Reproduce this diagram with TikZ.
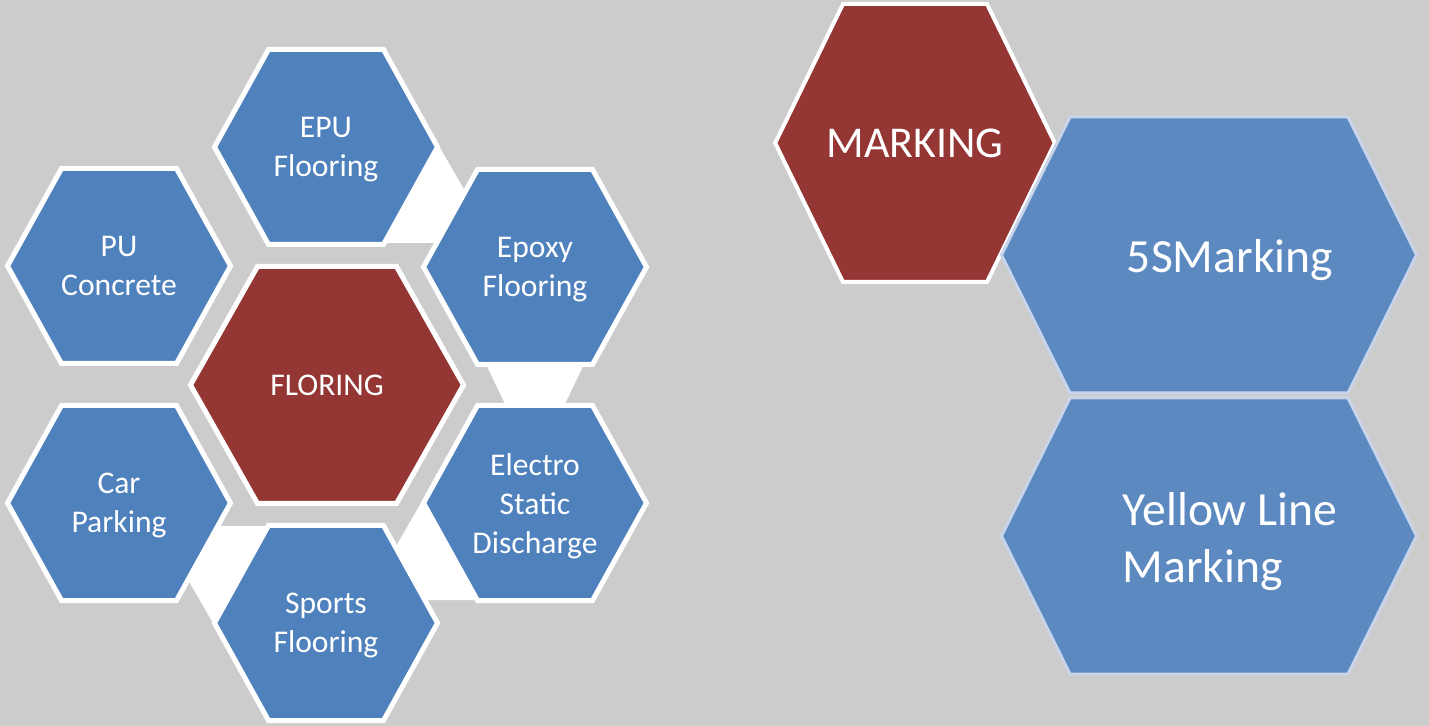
\documentclass[tikz,border=0pt]{standalone}
\usepackage{fontspec}
\setmainfont{Carlito}
\usetikzlibrary{calc}
\usetikzlibrary{backgrounds}

\definecolor{paper}{RGB}{204,204,204}
\definecolor{cellblue}{RGB}{79,129,189}
\definecolor{cellred}{RGB}{148,54,52}
\definecolor{sideblue}{RGB}{92,137,192}
\definecolor{rimblue}{RGB}{200,212,234}

\begin{document}
\begin{tikzpicture}[
	x=0.5pt,
	y=-0.5pt,
	hex/.style n args={3}{
		insert path={++(-#1,0) -- ++(#1-#2,-#3) -- ++(2*#2,0) -- ++(#1-#2,#3) -- ++(#2-#1,#3) -- ++(-2*#2,0) -- cycle}
	},
	small hex/.style={hex={111.5}{57.5}{97.5}},
	core hex/.style={hex={136.5}{69.5}{118.5}},
	tall hex/.style={hex={139.8}{72}{139}},
	wide hex/.style={hex={207.5}{139}{138}},
	blue cell/.style={
		fill=cellblue,
		draw=white,
		line width=2.5pt
	},
	red cell/.style={
		fill=cellred,
		draw=white,
		line width=2.5pt
	},
	side cell/.style={
		fill=sideblue,
		draw=rimblue,
		line width=1.5pt
	},
	link/.style={
		fill=white
	},
	txt/.style={
		text=white,
		align=center,
		inner sep=0pt,
		text depth=0pt,
		font=\fontsize{15.8}{19.5}\selectfont
	},
	big/.style={
		font=\fontsize{23.8}{28.5}\selectfont
	}
]
\useasboundingbox (0,0) rectangle (1429,726);

% Flooring cluster
\node [txt] (Floring) at (327,385) {FLORING};
\node [txt] (EPU) at (326,147) {EPU\\Flooring};
\node [txt] (PU) at (119,266) {PU\\Concrete};
\node [txt] (Epoxy) at (535,267) {Epoxy\\Flooring};
\node [txt] (Electro) at (535,504) {Electro\\Static\\Discharge};
\node [txt] (Car) at (119,503) {Car\\Parking};
\node [txt] (Sports) at (326,623) {Sports\\Flooring};

% Marking group
\node [txt, font=\fontsize{22}{26}\selectfont] (Marking) at (915,143) {MARKING};
\node [txt, big] (5S Marking) at (1230,256) {5SMarking};
\node [txt, big, align=left] (Yellow Line) at (1230,537) {Yellow Line\\Marking};

\begin{scope}[on background layer]
\fill [paper] (0,0) rectangle (1429,726);

% Links
\fill [link] ($(EPU.center)+(113,-1)$) -- ++(56,97) -- ++(-112,0) -- cycle;
\fill [link] ($(Epoxy.center)+(-51,93)$) -- ++(102,0) -- ++(-22,46) -- ++(-58,0) -- cycle;
\fill [link] ($(Electro.center)+(-114,-1)$) -- ++(56,97) -- ++(-112,0) -- cycle;
\fill [link] ($(Sports.center)+(-113,0)$) -- ++(56,-97) -- ++(-112,0) -- cycle;

% Cells
\draw [red cell] (Floring.center) [core hex];
\draw [blue cell] (EPU.center) [small hex];
\draw [blue cell] (PU.center) [small hex];
\draw [blue cell] (Epoxy.center) [small hex];
\draw [blue cell] ($(Electro.center)+(0,-1)$) [small hex];
\draw [blue cell] (Car.center) [small hex];
\draw [blue cell] (Sports.center) [small hex];

\draw [red cell, line width=2pt] (Marking.center) [tall hex];
\draw [side cell] ($(5S Marking.center)+(-21,-1)$) [wide hex];
\draw [side cell] ($(Yellow Line.center)+(-21,-1)$) [wide hex];
\end{scope}
\end{tikzpicture}
\end{document}
